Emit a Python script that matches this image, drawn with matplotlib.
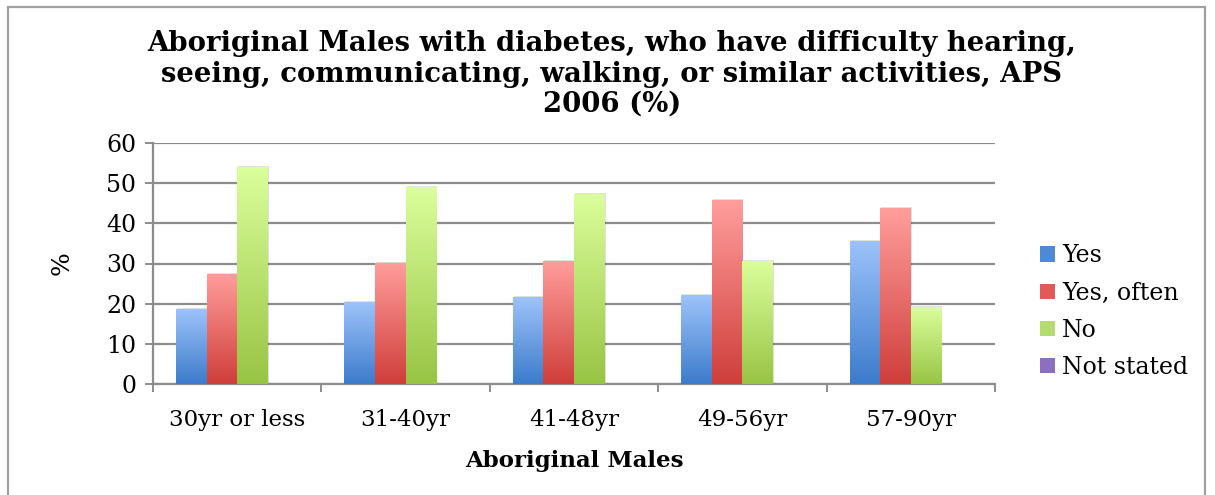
#!/usr/bin/env python3
"""Aboriginal males with diabetes - difficulty with activities, APS 2006."""

import matplotlib

matplotlib.use("Agg")
import matplotlib.pyplot as plt
import numpy as np
from matplotlib.colors import LinearSegmentedColormap
from matplotlib.patches import Rectangle

categories = ["30yr or less", "31-40yr", "41-48yr", "49-56yr", "57-90yr"]
series = ["Yes", "Yes, often", "No", "Not stated"]
yes = [18.6, 20.4, 21.6, 22.1, 35.7]
yes_often = [27.4, 30.2, 30.7, 45.8, 43.8]
no = [54.1, 49.1, 47.4, 30.7, 19.2]
not_stated = [0, 0, 0, 0, 0]

# (top colour, bottom colour) for the Excel-like gradient fills
grads = [("#9DC3FA", "#3C7BCB"), ("#FF9E9C", "#CF3E3B"),
         ("#DBFF9C", "#98C444"), ("#B9A3DA", "#7B5DB0")]
legend_cols = ["#4F89D6", "#DF5A58", "#B5DC71", "#8D6FC0"]

plt.rcParams["font.family"] = ["DejaVu Serif"]

W, H = 1215, 495
fig = plt.figure(figsize=(W / 100, H / 100), dpi=100)
ax = fig.add_axes([153 / W, 1 - 384 / H, (995 - 153) / W, (384 - 143) / H])

# outer chart frame
fig.patches.append(Rectangle((8 / W, -0.02), (1205 - 8) / W, 1 - 7 / H + 0.02,
                             transform=fig.transFigure, fill=False,
                             edgecolor="#A0A0A0", lw=1.6))

x = np.arange(len(categories))
bw = 0.182
data = [yes, yes_often, no, not_stated]
grad_img = np.linspace(0, 1, 256).reshape(-1, 1)
for i, (vals, (top, bot)) in enumerate(zip(data, grads)):
    cmap = LinearSegmentedColormap.from_list(f"g{i}", [bot, top])
    offs = (i - 1.5) * bw
    bars = ax.bar(x + offs, vals, bw, color="none", edgecolor="none", zorder=3)
    for b, v in zip(bars, vals):
        if v <= 0:
            continue
        x0 = b.get_x()
        # faint shadow
        ax.add_patch(Rectangle((x0 + 0.006, 0), bw, v + 0.25, facecolor="#000000",
                               alpha=0.12, edgecolor="none", zorder=2.5))
        im = ax.imshow(grad_img, extent=[x0, x0 + bw, 0, v], origin="lower",
                       aspect="auto", cmap=cmap, zorder=3)
        im.set_clip_path(b)
    ax.bar([0], [0], color=legend_cols[i], label=series[i])

ax.set_xlim(-0.5, len(categories) - 0.5)
ax.set_ylim(0, 60)
ax.set_yticks(range(0, 61, 10))
ax.yaxis.grid(True, color="#8C8C8C", lw=1.6, zorder=0)
ax.set_axisbelow(True)
ax.set_xticks(x)
ax.set_xticklabels(categories, fontsize=16.5)
ax.set_xticks(np.arange(-0.5, len(categories)), minor=True)
ax.tick_params(axis="x", which="major", length=0, pad=18)
ax.tick_params(axis="x", which="minor", length=6, color="#8C8C8C", width=1.4)
ax.tick_params(axis="y", labelsize=17, length=6, color="#8C8C8C", width=1.4, pad=6)
for s in ["top", "right"]:
    ax.spines[s].set_visible(False)
for s in ["left", "bottom"]:
    ax.spines[s].set_color("#8C8C8C")
    ax.spines[s].set_linewidth(1.6)

ax.set_ylabel("%", fontsize=18)
ax.yaxis.set_label_coords(-0.094, 0.5)
ax.set_xlabel("Aboriginal Males", fontsize=16.5, fontweight="bold")
ax.xaxis.set_label_coords(0.5, -0.275)

fig.text(612 / W, 1 - 74 / H,
         "Aboriginal Males with diabetes, who have difficulty hearing,\n"
         "seeing, communicating, walking, or similar activities, APS\n2006 (%)",
         ha="center", va="center", fontsize=19.8, fontweight="bold", linespacing=1.15)

ax.legend(loc="center left", bbox_to_anchor=(1.053, 0.30), frameon=False,
          fontsize=17, handlelength=0.64, handleheight=0.64, handletextpad=0.3,
          labelspacing=0.6, borderaxespad=0, borderpad=0)

fig.savefig("out.png", dpi=100)
